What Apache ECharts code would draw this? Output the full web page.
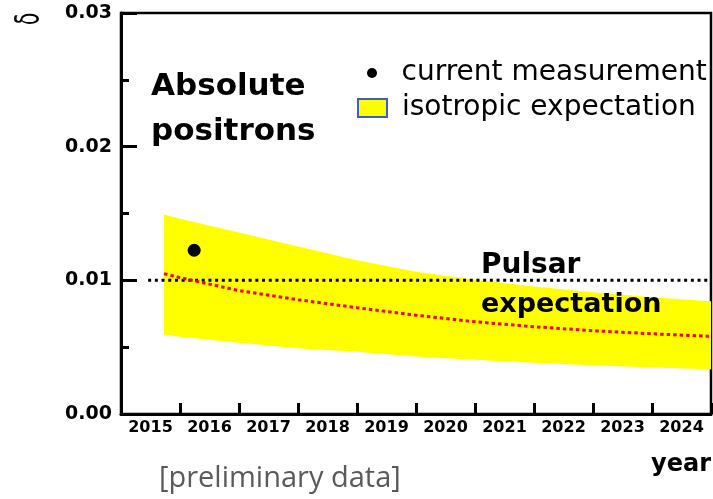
<!DOCTYPE html>
<html>
<head>
<meta charset="utf-8">
<script src="https://cdn.jsdelivr.net/npm/echarts@6/dist/echarts.min.js"></script>
<style>
html,body{margin:0;padding:0;background:#fff;}
#chart{width:713px;height:499px;}
</style>
</head>
<body>
<div id="chart"></div>
<script>
// ---- data ----
const yearLabels = ['2015','2016','2017','2018','2019','2020','2021','2022','2023','2024'];
const bandYears = [2015.73, 2016, 2017, 2018, 2019, 2020, 2021, 2022, 2023, 2024, 2025];
const upperBand = [0.01493, 0.01460, 0.01358, 0.01253, 0.01150, 0.01065, 0.01005, 0.00953, 0.00910, 0.00874, 0.00843];
const lowerBand = [0.00593, 0.00578, 0.00533, 0.00491, 0.00465, 0.00431, 0.00405, 0.00383, 0.00364, 0.00347, 0.00334];
const redCurve  = [0.01050, 0.01020, 0.00923, 0.00855, 0.00795, 0.00739, 0.00690, 0.00653, 0.00623, 0.00600, 0.00581];
const measurementYear = [2016.24];
const measurementValue = [0.01225];
const pulsarYears = [2015.46, 2025];
const pulsarLevel = [0.01, 0.01];
const yTicks = [0, 0.01, 0.02, 0.03];

const chart = echarts.init(document.getElementById('chart'));
const FONT = 'DejaVu Sans';
const bandData = bandYears.map((y, i) => [y, lowerBand[i], upperBand[i]]);
const redPts = bandYears.map((y, i) => [y, redCurve[i]]);

function renderBand(params, api) {
  if (params.dataIndex !== 0) return null;
  const n = params.dataInsideLength;
  const top = [], bottom = [];
  for (let i = 0; i < n; i++) {
    const x = api.value(0, i);
    top.push(api.coord([x, api.value(2, i)]));
    bottom.push(api.coord([x, api.value(1, i)]));
  }
  const pts = top.concat(bottom.reverse());
  return {
    type: 'polygon',
    shape: { points: pts },
    style: { fill: '#ffff00', stroke: 'none' }
  };
}

const option = {
  animation: false,
  backgroundColor: '#fff',
  grid: { left: 121, right: 2, top: 13, bottom: 85, show: true, borderColor: '#000', borderWidth: 2.5, containLabel: false },
  legend: [
    {
      data: [{ name: 'current measurement', icon: 'circle' }],
      left: 367, top: 59, padding: 0, itemWidth: 29, itemHeight: 10,
      selectedMode: false,
      textStyle: { fontFamily: FONT, fontSize: 28, color: '#000', padding: [0, 0, 0, 10] }
    },
    {
      data: [{ name: 'isotropic expectation', icon: 'rect', itemStyle: { color: '#ffff00', borderColor: '#3a5fc8', borderWidth: 2 } }],
      left: 357, top: 94, padding: 0, itemWidth: 29, itemHeight: 18,
      selectedMode: false,
      textStyle: { fontFamily: FONT, fontSize: 28, color: '#000', padding: [0, 0, 0, 10] }
    }
  ],
  xAxis: [
    {
      type: 'category', data: yearLabels, boundaryGap: true, position: 'bottom',
      axisLine: { lineStyle: { color: '#000', width: 3 } },
      axisTick: { show: true, inside: true, length: 11, lineStyle: { color: '#000', width: 3 } },
      axisLabel: { fontFamily: FONT, fontWeight: 'bold', fontSize: 16, color: '#000', margin: 6 },
      splitLine: { show: false }
    },
    {
      type: 'value', min: 2015, max: 2025, show: false, position: 'bottom'
    }
  ],
  yAxis: {
    type: 'value', min: yTicks[0], max: yTicks[yTicks.length - 1], interval: 0.01,
    axisLine: { show: true, lineStyle: { color: '#000', width: 3 } },
    axisTick: { show: true, inside: true, length: 16, lineStyle: { color: '#000', width: 3 } },
    minorTick: { show: true, splitNumber: 2, length: 8, lineStyle: { color: '#000', width: 3 } },
    axisLabel: { fontFamily: FONT, fontWeight: 'bold', fontSize: 19, color: '#000', margin: 9,
      formatter: v => v.toFixed(2) },
    splitLine: { show: false }
  },
  series: [
    {
      name: 'isotropic expectation', type: 'custom', xAxisIndex: 1, data: bandData,
      encode: { x: 0, y: [1, 2] }, renderItem: renderBand, color: '#ffff00',
      clip: true, silent: true, z: 1
    },
    {
      name: 'pulsar level', type: 'line', xAxisIndex: 1,
      data: pulsarYears.map((y, i) => [y, pulsarLevel[i]]),
      symbol: 'none', lineStyle: { color: '#000', width: 3, type: [3, 3.7] }, z: 3
    },
    {
      name: 'red curve', type: 'line', xAxisIndex: 1, data: redPts,
      symbol: 'none', smooth: false, lineStyle: { color: '#ff0000', width: 3, type: [3.5, 3] }, z: 4
    },
    {
      name: 'current measurement', type: 'scatter', xAxisIndex: 1,
      data: measurementYear.map((y, i) => [y, measurementValue[i]]),
      symbol: 'circle', symbolSize: 13, itemStyle: { color: '#000', opacity: 1 }, z: 5
    }
  ],
  graphic: [
    { type: 'text', z: 100, x: 151, y: 87, style: { text: 'Absolute', fontFamily: FONT, fontWeight: 'bold', fontSize: 31, fill: '#000', verticalAlign: 'middle' } },
    { type: 'text', z: 100, x: 151, y: 132, style: { text: 'positrons', fontFamily: FONT, fontWeight: 'bold', fontSize: 31, fill: '#000', verticalAlign: 'middle' } },
    { type: 'text', z: 100, x: 481, y: 266, style: { text: 'Pulsar', fontFamily: FONT, fontWeight: 'bold', fontSize: 28, fill: '#000', verticalAlign: 'middle' } },
    { type: 'text', z: 100, x: 481, y: 305, style: { text: 'expectation', fontFamily: FONT, fontWeight: 'bold', fontSize: 27, fill: '#000', verticalAlign: 'middle' } },
    { type: 'text', z: 100, x: 711, y: 465, style: { text: 'year', fontFamily: FONT, fontWeight: 'bold', fontSize: 24, fill: '#000', align: 'right', verticalAlign: 'middle' } },
    { type: 'text', z: 100, x: 159, y: 479, style: { text: '[preliminary data]', fontFamily: 'Open Sans', fontSize: 29, fill: '#5a5a5a', verticalAlign: 'middle' } },
    { type: 'text', z: 100, x: 30, y: 19, rotation: Math.PI / 2, scaleY: 1.7, style: { text: 'δ', fontFamily: FONT, fontSize: 20, fill: '#000', align: 'center', verticalAlign: 'middle' } }
  ]
};
chart.setOption(option);
</script>
</body>
</html>
